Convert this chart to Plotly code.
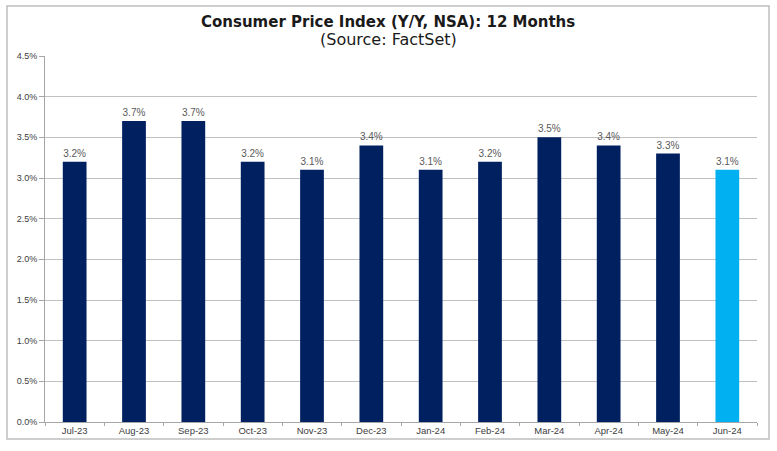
import plotly.graph_objects as go

months = ["Jul-23", "Aug-23", "Sep-23", "Oct-23", "Nov-23", "Dec-23",
          "Jan-24", "Feb-24", "Mar-24", "Apr-24", "May-24", "Jun-24"]
cpi = [3.2, 3.7, 3.7, 3.2, 3.1, 3.4, 3.1, 3.2, 3.5, 3.4, 3.3, 3.1]
ytick_vals = [0.0, 0.5, 1.0, 1.5, 2.0, 2.5, 3.0, 3.5, 4.0, 4.5]
ytick_text = [f"{v:.1f}%" for v in ytick_vals]

navy = "#002060"
light = "#00B0F0"
colors = [navy] * (len(months) - 1) + [light]

fig = go.Figure()
fig.add_trace(go.Bar(
    x=months, y=cpi,
    marker=dict(color=colors, line=dict(width=0)),
    text=[f"{v:.1f}%" for v in cpi],
    textposition="outside",
    textfont=dict(family="Liberation Sans, Arial", size=10, color="#595959"),
    cliponaxis=False,
    hoverinfo="skip",
))

L, R, T, B = 45, 757, 56, 422
W, H = 777, 451
pw, ph = R - L, B - T

fig.update_layout(
    width=W, height=H,
    margin=dict(l=L, r=W - R, t=T, b=H - B),
    paper_bgcolor="white", plot_bgcolor="white",
    bargap=0.6,
    showlegend=False,
    font=dict(family="Liberation Sans, Arial", color="#404040"),
    xaxis=dict(
        type="category",
        showgrid=False,
        showline=True, linecolor="#A6A6A6", linewidth=1,
        ticks="outside", tickson="boundaries", ticklen=3, tickcolor="#A6A6A6",
        tickfont=dict(size=9.5, color="#404040"),
    ),
    yaxis=dict(
        range=[0, 4.5],
        tickvals=ytick_vals, ticktext=ytick_text,
        showgrid=True, gridcolor="#C0C0C0", gridwidth=1,
        showline=True, linecolor="#A6A6A6", linewidth=1,
        ticks="outside", ticklen=5, tickcolor="#A6A6A6",
        tickfont=dict(size=9, color="#404040"),
        zeroline=False,
    ),
    shapes=[dict(
        type="rect", xref="paper", yref="paper",
        x0=(7 - L) / pw, x1=(769 - L) / pw,
        y0=(B - 439) / ph, y1=(B - 6) / ph,
        line=dict(color="#BFBFBF", width=1.5), fillcolor="rgba(0,0,0,0)",
        layer="below",
    )],
    annotations=[
        dict(text="<b>Consumer Price Index (Y/Y, NSA): 12 Months</b>",
             xref="paper", yref="paper", x=(388 - L) / pw, y=(B - 22) / ph,
             xanchor="center", yanchor="middle", showarrow=False,
             font=dict(size=15, color="#1a1a1a", family="DejaVu Sans")),
        dict(text="(Source: FactSet)",
             xref="paper", yref="paper", x=(388 - L) / pw, y=(B - 39) / ph,
             xanchor="center", yanchor="middle", showarrow=False,
             font=dict(size=16, color="#1a1a1a", family="DejaVu Sans")),
    ],
)

fig.write_html("out.html", config={"displayModeBar": False},
               post_script="document.body.style.margin='0px';")
